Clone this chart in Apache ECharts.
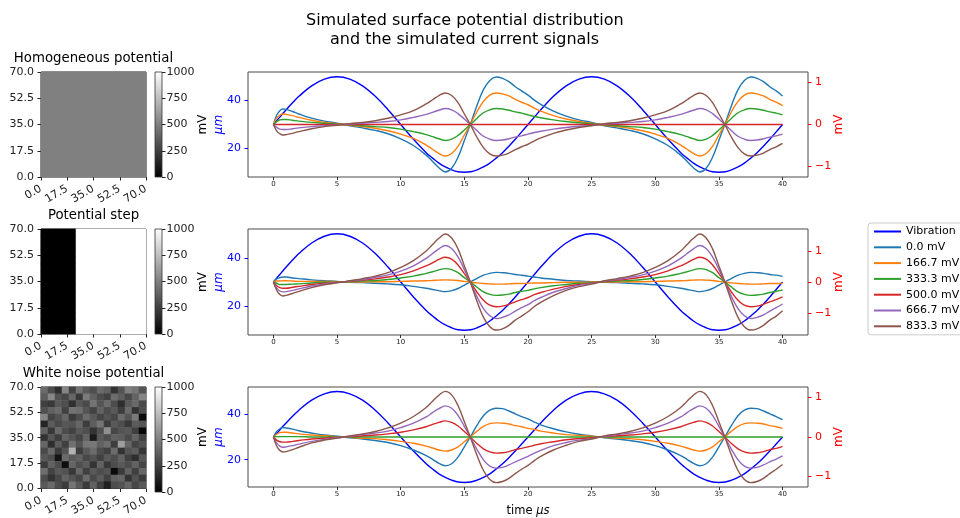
<!DOCTYPE html>
<html>
<head>
<meta charset="utf-8">
<script src="https://cdn.jsdelivr.net/npm/echarts@6/dist/echarts.min.js"></script>
<style>
  html, body { margin: 0; padding: 0; background: #fff; }
  #chart { width: 960px; height: 518px; }
</style>
</head>
<body>
<div id="chart"></div>
<script>
  // ---- data ----
  const TIME = [0, 0.25, 0.5, 0.75, 1, 1.5, 2, 3, 4, 5,
    6, 7, 8, 9, 10, 11, 12, 12.5, 13, 13.5,
    14, 14.5, 15, 15.5, 16, 16.5, 17, 17.5, 18, 18.5,
    19, 19.5, 20, 20.5, 21, 22, 23, 24, 25,
    26, 27, 28, 29, 30, 31, 32, 32.5, 33, 33.5,
    34, 34.5, 35, 35.5, 36, 36.5, 37, 37.5, 38, 38.5,
    39, 39.5, 40];

  const VIBRATION = [30, 31.6, 33.1, 34.7, 36.2, 39.1, 41.8, 46.2, 49.0, 50,
    49.0, 46.2, 41.8, 36.2, 30, 23.8, 18.2, 15.9, 13.8, 12.2,
    11.0, 10.2, 10, 10.2, 11.0, 12.2, 13.8, 15.9, 18.2, 20.9,
    23.8, 26.9, 30, 33.1, 36.2, 41.8, 46.2, 49.0, 50,
    49.0, 46.2, 41.8, 36.2, 30, 23.8, 18.2, 15.9, 13.8, 12.2,
    11.0, 10.2, 10, 10.2, 11.0, 12.2, 13.8, 15.9, 18.2, 20.9,
    23.8, 26.9, 30];

  // homogeneous potential panel
  const HOMO_0 = [0, 0.22, 0.33, 0.37, 0.36, 0.31, 0.25, 0.15, 0.08, 0.03,
    -0.03, -0.08, -0.14, -0.22, -0.34, -0.5, -0.73, -0.88, -1.03, -1.13,
    -1.04, -0.78, -0.38, 0.03, 0.46, 0.83, 1.05, 1.13, 1.1, 1.02,
    0.9, 0.8, 0.7, 0.58, 0.48, 0.32, 0.2, 0.11, 0.05,
    -0.03, -0.08, -0.14, -0.22, -0.34, -0.5, -0.73, -0.88, -1.03, -1.13,
    -1.04, -0.78, -0.38, 0.03, 0.46, 0.83, 1.05, 1.13, 1.1, 1.02,
    0.9, 0.8, 0.68];
  const HOMO_167 = [0, 0.15, 0.22, 0.25, 0.24, 0.21, 0.17, 0.10, 0.05, 0.02,
    -0.02, -0.05, -0.09, -0.15, -0.23, -0.33, -0.49, -0.59, -0.69, -0.75,
    -0.69, -0.52, -0.25, 0.02, 0.31, 0.55, 0.70, 0.75, 0.73, 0.68,
    0.60, 0.53, 0.47, 0.39, 0.32, 0.21, 0.13, 0.07, 0.03,
    -0.02, -0.05, -0.09, -0.15, -0.23, -0.33, -0.49, -0.59, -0.69, -0.75,
    -0.69, -0.52, -0.25, 0.02, 0.31, 0.55, 0.70, 0.75, 0.73, 0.68,
    0.60, 0.53, 0.45];
  const HOMO_333 = [0, 0.07, 0.11, 0.12, 0.12, 0.10, 0.08, 0.05, 0.03, 0.01,
    -0.01, -0.03, -0.05, -0.07, -0.11, -0.17, -0.24, -0.29, -0.34, -0.38,
    -0.35, -0.26, -0.13, 0.01, 0.15, 0.28, 0.35, 0.38, 0.37, 0.34,
    0.30, 0.27, 0.23, 0.19, 0.16, 0.11, 0.07, 0.04, 0.02,
    -0.01, -0.03, -0.05, -0.07, -0.11, -0.17, -0.24, -0.29, -0.34, -0.38,
    -0.35, -0.26, -0.13, 0.01, 0.15, 0.28, 0.35, 0.38, 0.37, 0.34,
    0.30, 0.27, 0.23];
  const HOMO_500 = [0, 0, 0, 0, 0, 0, 0, 0, 0, 0,
    0, 0, 0, 0, 0, 0, 0, 0, 0, 0,
    0, 0, 0, 0, 0, 0, 0, 0, 0, 0,
    0, 0, 0, 0, 0, 0, 0, 0, 0,
    0, 0, 0, 0, 0, 0, 0, 0, 0, 0,
    0, 0, 0, 0, 0, 0, 0, 0, 0, 0,
    0, 0, 0];
  const HOMO_667 = [0, -0.07, -0.11, -0.12, -0.12, -0.10, -0.08, -0.05, -0.03, -0.01,
    0.01, 0.03, 0.05, 0.07, 0.11, 0.17, 0.24, 0.29, 0.34, 0.38,
    0.35, 0.26, 0.13, -0.01, -0.15, -0.28, -0.35, -0.38, -0.37, -0.34,
    -0.30, -0.27, -0.23, -0.19, -0.16, -0.11, -0.07, -0.04, -0.02,
    0.01, 0.03, 0.05, 0.07, 0.11, 0.17, 0.24, 0.29, 0.34, 0.38,
    0.35, 0.26, 0.13, -0.01, -0.15, -0.28, -0.35, -0.38, -0.37, -0.34,
    -0.30, -0.27, -0.23];
  const HOMO_833 = [0, -0.15, -0.22, -0.25, -0.24, -0.21, -0.17, -0.10, -0.05, -0.02,
    0.02, 0.05, 0.09, 0.15, 0.23, 0.33, 0.49, 0.59, 0.69, 0.75,
    0.69, 0.52, 0.25, -0.02, -0.31, -0.55, -0.70, -0.75, -0.73, -0.68,
    -0.60, -0.53, -0.47, -0.39, -0.32, -0.21, -0.13, -0.07, -0.03,
    0.02, 0.05, 0.09, 0.15, 0.23, 0.33, 0.49, 0.59, 0.69, 0.75,
    0.69, 0.52, 0.25, -0.02, -0.31, -0.55, -0.70, -0.75, -0.73, -0.68,
    -0.60, -0.53, -0.45];

  // potential step panel
  const STEP_0 = [0, 0.10, 0.14, 0.16, 0.16, 0.13, 0.11, 0.07, 0.04, 0.02,
    -0.01, -0.02, -0.04, -0.06, -0.09, -0.14, -0.20, -0.24, -0.28, -0.31,
    -0.28, -0.21, -0.10, 0.01, 0.12, 0.22, 0.28, 0.31, 0.30, 0.28,
    0.24, 0.22, 0.19, 0.16, 0.13, 0.09, 0.05, 0.03, 0.01,
    -0.01, -0.02, -0.04, -0.06, -0.09, -0.14, -0.20, -0.24, -0.28, -0.31,
    -0.28, -0.21, -0.10, 0.01, 0.12, 0.22, 0.28, 0.31, 0.30, 0.28,
    0.24, 0.22, 0.18];
  const STEP_167 = [0, 0.03, 0.03, 0.04, 0.04, 0.03, 0.02, 0.02, 0.02, 0.01,
    0, 0, 0.01, 0.01, 0.02, 0.03, 0.04, 0.05, 0.06, 0.07,
    0.06, 0.05, 0.02, 0, -0.03, -0.05, -0.06, -0.07, -0.07, -0.06,
    -0.05, -0.05, -0.04, -0.03, -0.03, -0.02, -0.01, -0.01, 0,
    0, 0, 0.01, 0.01, 0.02, 0.03, 0.04, 0.05, 0.06, 0.07,
    0.06, 0.05, 0.02, 0, -0.03, -0.05, -0.06, -0.07, -0.07, -0.06,
    -0.05, -0.05, -0.04];
  const STEP_333 = [0, -0.04, -0.08, -0.08, -0.08, -0.07, -0.06, -0.03, -0.01, 0,
    0.01, 0.03, 0.05, 0.08, 0.13, 0.19, 0.28, 0.33, 0.39, 0.43,
    0.40, 0.30, 0.14, -0.01, -0.17, -0.32, -0.40, -0.43, -0.42, -0.39,
    -0.34, -0.30, -0.27, -0.22, -0.18, -0.12, -0.08, -0.04, -0.02,
    0.01, 0.03, 0.05, 0.08, 0.13, 0.19, 0.28, 0.33, 0.39, 0.43,
    0.40, 0.30, 0.14, -0.01, -0.17, -0.32, -0.40, -0.43, -0.42, -0.39,
    -0.34, -0.30, -0.26];
  const STEP_500 = [0, -0.12, -0.18, -0.20, -0.20, -0.17, -0.14, -0.08, -0.04, -0.01,
    0.02, 0.06, 0.10, 0.16, 0.24, 0.36, 0.52, 0.62, 0.73, 0.80,
    0.74, 0.55, 0.27, -0.02, -0.33, -0.59, -0.75, -0.80, -0.78, -0.72,
    -0.64, -0.57, -0.50, -0.41, -0.34, -0.23, -0.14, -0.08, -0.04,
    0.02, 0.06, 0.10, 0.16, 0.24, 0.36, 0.52, 0.62, 0.73, 0.80,
    0.74, 0.55, 0.27, -0.02, -0.33, -0.59, -0.75, -0.80, -0.78, -0.72,
    -0.64, -0.57, -0.48];
  const STEP_667 = [0, -0.19, -0.29, -0.32, -0.31, -0.27, -0.22, -0.13, -0.06, -0.02,
    0.03, 0.08, 0.15, 0.23, 0.35, 0.52, 0.76, 0.92, 1.07, 1.18,
    1.08, 0.81, 0.40, -0.03, -0.48, -0.86, -1.09, -1.18, -1.14, -1.06,
    -0.94, -0.83, -0.73, -0.60, -0.50, -0.33, -0.21, -0.11, -0.05,
    0.03, 0.08, 0.15, 0.23, 0.35, 0.52, 0.76, 0.92, 1.07, 1.18,
    1.08, 0.81, 0.40, -0.03, -0.48, -0.86, -1.09, -1.18, -1.14, -1.06,
    -0.94, -0.83, -0.71];
  const STEP_833 = [0, -0.26, -0.40, -0.45, -0.43, -0.37, -0.30, -0.18, -0.09, -0.03,
    0.04, 0.11, 0.19, 0.30, 0.47, 0.69, 1.00, 1.21, 1.41, 1.55,
    1.42, 1.07, 0.52, -0.04, -0.63, -1.14, -1.44, -1.55, -1.51, -1.40,
    -1.23, -1.10, -0.96, -0.79, -0.66, -0.44, -0.27, -0.15, -0.07,
    0.04, 0.11, 0.19, 0.30, 0.47, 0.69, 1.00, 1.21, 1.41, 1.55,
    1.42, 1.07, 0.52, -0.04, -0.63, -1.14, -1.44, -1.55, -1.51, -1.40,
    -1.23, -1.10, -0.93];

  // white noise panel
  const NOISE_0 = [0, 0.14, 0.21, 0.24, 0.23, 0.20, 0.16, 0.10, 0.05, 0.02,
    -0.02, -0.05, -0.09, -0.14, -0.22, -0.33, -0.47, -0.57, -0.67, -0.73,
    -0.68, -0.51, -0.25, 0.02, 0.30, 0.54, 0.68, 0.73, 0.72, 0.66,
    0.59, 0.52, 0.46, 0.38, 0.31, 0.21, 0.13, 0.07, 0.03,
    -0.02, -0.05, -0.09, -0.14, -0.22, -0.33, -0.47, -0.57, -0.67, -0.73,
    -0.68, -0.51, -0.25, 0.02, 0.30, 0.54, 0.68, 0.73, 0.72, 0.66,
    0.59, 0.52, 0.44];
  const NOISE_167 = [0, 0.07, 0.11, 0.12, 0.12, 0.10, 0.08, 0.05, 0.03, 0.01,
    -0.01, -0.03, -0.04, -0.07, -0.11, -0.16, -0.23, -0.28, -0.33, -0.36,
    -0.33, -0.25, -0.12, 0.01, 0.15, 0.27, 0.34, 0.36, 0.35, 0.33,
    0.29, 0.26, 0.22, 0.19, 0.15, 0.10, 0.06, 0.04, 0.02,
    -0.01, -0.03, -0.04, -0.07, -0.11, -0.16, -0.23, -0.28, -0.33, -0.36,
    -0.33, -0.25, -0.12, 0.01, 0.15, 0.27, 0.34, 0.36, 0.35, 0.33,
    0.29, 0.26, 0.22];
  const NOISE_333 = [0, 0.01, 0.01, 0.01, 0.01, 0.01, 0.01, 0, 0, 0,
    0, 0, 0, 0, 0, 0, 0, 0, 0, 0,
    0, 0, 0, 0, 0, 0, 0, 0, 0, 0,
    0, 0, 0, 0, 0, 0, 0, 0, 0,
    0, 0, 0, 0, 0, 0, 0, 0, 0, 0,
    0, 0, 0, 0, 0, 0, 0, 0, 0, 0,
    0, 0, 0];
  const NOISE_500 = [0, -0.08, -0.12, -0.13, -0.13, -0.11, -0.09, -0.05, -0.03, -0.01,
    0.01, 0.03, 0.05, 0.08, 0.12, 0.18, 0.26, 0.32, 0.37, 0.41,
    0.37, 0.28, 0.14, -0.01, -0.17, -0.30, -0.38, -0.41, -0.40, -0.37,
    -0.32, -0.29, -0.25, -0.21, -0.17, -0.12, -0.07, -0.04, -0.02,
    0.01, 0.03, 0.05, 0.08, 0.12, 0.18, 0.26, 0.32, 0.37, 0.41,
    0.37, 0.28, 0.14, -0.01, -0.17, -0.30, -0.38, -0.41, -0.40, -0.37,
    -0.32, -0.29, -0.24];
  const NOISE_667 = [0, -0.15, -0.23, -0.26, -0.25, -0.22, -0.18, -0.11, -0.06, -0.02,
    0.02, 0.06, 0.10, 0.15, 0.24, 0.35, 0.51, 0.62, 0.72, 0.79,
    0.73, 0.55, 0.27, -0.02, -0.32, -0.58, -0.74, -0.79, -0.77, -0.71,
    -0.63, -0.56, -0.49, -0.41, -0.34, -0.22, -0.14, -0.08, -0.04,
    0.02, 0.06, 0.10, 0.15, 0.24, 0.35, 0.51, 0.62, 0.72, 0.79,
    0.73, 0.55, 0.27, -0.02, -0.32, -0.58, -0.74, -0.79, -0.77, -0.71,
    -0.63, -0.56, -0.48];
  const NOISE_833 = [0, -0.23, -0.34, -0.38, -0.37, -0.32, -0.26, -0.15, -0.08, -0.03,
    0.03, 0.08, 0.14, 0.23, 0.35, 0.52, 0.75, 0.91, 1.06, 1.16,
    1.07, 0.80, 0.39, -0.03, -0.47, -0.85, -1.08, -1.16, -1.13, -1.05,
    -0.93, -0.82, -0.72, -0.60, -0.49, -0.33, -0.21, -0.11, -0.05,
    0.03, 0.08, 0.14, 0.23, 0.35, 0.52, 0.75, 0.91, 1.06, 1.16,
    1.07, 0.80, 0.39, -0.03, -0.47, -0.85, -1.08, -1.16, -1.13, -1.05,
    -0.93, -0.82, -0.70];

  // surface potential maps (mV), top row first, 15 x 15 cells over 0..70
  const HOMO_MAP = [
    [500, 500, 500, 500, 500, 500, 500, 500, 500, 500, 500, 500, 500, 500, 500],
    [500, 500, 500, 500, 500, 500, 500, 500, 500, 500, 500, 500, 500, 500, 500],
    [500, 500, 500, 500, 500, 500, 500, 500, 500, 500, 500, 500, 500, 500, 500],
    [500, 500, 500, 500, 500, 500, 500, 500, 500, 500, 500, 500, 500, 500, 500],
    [500, 500, 500, 500, 500, 500, 500, 500, 500, 500, 500, 500, 500, 500, 500],
    [500, 500, 500, 500, 500, 500, 500, 500, 500, 500, 500, 500, 500, 500, 500],
    [500, 500, 500, 500, 500, 500, 500, 500, 500, 500, 500, 500, 500, 500, 500],
    [500, 500, 500, 500, 500, 500, 500, 500, 500, 500, 500, 500, 500, 500, 500],
    [500, 500, 500, 500, 500, 500, 500, 500, 500, 500, 500, 500, 500, 500, 500],
    [500, 500, 500, 500, 500, 500, 500, 500, 500, 500, 500, 500, 500, 500, 500],
    [500, 500, 500, 500, 500, 500, 500, 500, 500, 500, 500, 500, 500, 500, 500],
    [500, 500, 500, 500, 500, 500, 500, 500, 500, 500, 500, 500, 500, 500, 500],
    [500, 500, 500, 500, 500, 500, 500, 500, 500, 500, 500, 500, 500, 500, 500],
    [500, 500, 500, 500, 500, 500, 500, 500, 500, 500, 500, 500, 500, 500, 500],
    [500, 500, 500, 500, 500, 500, 500, 500, 500, 500, 500, 500, 500, 500, 500]
  ];
  const STEP_MAP = [
    [0, 0, 0, 0, 0, 1000, 1000, 1000, 1000, 1000, 1000, 1000, 1000, 1000, 1000],
    [0, 0, 0, 0, 0, 1000, 1000, 1000, 1000, 1000, 1000, 1000, 1000, 1000, 1000],
    [0, 0, 0, 0, 0, 1000, 1000, 1000, 1000, 1000, 1000, 1000, 1000, 1000, 1000],
    [0, 0, 0, 0, 0, 1000, 1000, 1000, 1000, 1000, 1000, 1000, 1000, 1000, 1000],
    [0, 0, 0, 0, 0, 1000, 1000, 1000, 1000, 1000, 1000, 1000, 1000, 1000, 1000],
    [0, 0, 0, 0, 0, 1000, 1000, 1000, 1000, 1000, 1000, 1000, 1000, 1000, 1000],
    [0, 0, 0, 0, 0, 1000, 1000, 1000, 1000, 1000, 1000, 1000, 1000, 1000, 1000],
    [0, 0, 0, 0, 0, 1000, 1000, 1000, 1000, 1000, 1000, 1000, 1000, 1000, 1000],
    [0, 0, 0, 0, 0, 1000, 1000, 1000, 1000, 1000, 1000, 1000, 1000, 1000, 1000],
    [0, 0, 0, 0, 0, 1000, 1000, 1000, 1000, 1000, 1000, 1000, 1000, 1000, 1000],
    [0, 0, 0, 0, 0, 1000, 1000, 1000, 1000, 1000, 1000, 1000, 1000, 1000, 1000],
    [0, 0, 0, 0, 0, 1000, 1000, 1000, 1000, 1000, 1000, 1000, 1000, 1000, 1000],
    [0, 0, 0, 0, 0, 1000, 1000, 1000, 1000, 1000, 1000, 1000, 1000, 1000, 1000],
    [0, 0, 0, 0, 0, 1000, 1000, 1000, 1000, 1000, 1000, 1000, 1000, 1000, 1000],
    [0, 0, 0, 0, 0, 1000, 1000, 1000, 1000, 1000, 1000, 1000, 1000, 1000, 1000]
  ];
  const NOISE_MAP = [
    [420, 300, 180, 520, 260, 450, 350, 310, 420, 380, 200, 330, 500, 460, 330],
    [360, 530, 320, 280, 400, 220, 480, 380, 300, 260, 430, 370, 280, 390, 520],
    [250, 220, 350, 310, 190, 340, 290, 450, 330, 420, 300, 180, 350, 410, 290],
    [310, 380, 420, 260, 450, 430, 330, 260, 380, 300, 350, 240, 410, 200, 300],
    [520, 270, 320, 400, 230, 300, 420, 350, 270, 330, 280, 420, 330, 480, 40],
    [150, 360, 290, 340, 330, 400, 240, 370, 460, 240, 350, 300, 220, 360, 330],
    [380, 220, 410, 300, 260, 350, 310, 200, 310, 560, 280, 330, 350, 250, 30],
    [200, 330, 240, 390, 330, 270, 390, 100, 350, 300, 380, 360, 290, 390, 260],
    [400, 180, 360, 250, 440, 330, 460, 470, 380, 430, 240, 620, 400, 270, 320],
    [290, 420, 230, 330, 700, 240, 350, 420, 300, 250, 420, 200, 330, 360, 210],
    [350, 300, 80, 420, 350, 380, 280, 320, 250, 350, 300, 380, 250, 180, 340],
    [230, 380, 300, 50, 400, 310, 360, 200, 390, 220, 300, 350, 300, 390, 270],
    [430, 260, 350, 320, 220, 400, 250, 350, 300, 330, 40, 230, 380, 250, 400],
    [300, 200, 280, 390, 330, 270, 420, 290, 360, 260, 380, 400, 200, 320, 230],
    [350, 420, 300, 240, 460, 350, 230, 380, 250, 120, 300, 330, 400, 280, 350]
  ];

  const SERIES_NAMES = ['0.0 mV', '166.7 mV', '333.3 mV', '500.0 mV', '666.7 mV', '833.3 mV'];
  const MAP_TITLES = ['Homogeneous potential', 'Potential step', 'White noise potential'];
  const MAPS = [HOMO_MAP, STEP_MAP, NOISE_MAP];
  const SIGNALS = [
    [HOMO_0, HOMO_167, HOMO_333, HOMO_500, HOMO_667, HOMO_833],
    [STEP_0, STEP_167, STEP_333, STEP_500, STEP_667, STEP_833],
    [NOISE_0, NOISE_167, NOISE_333, NOISE_500, NOISE_667, NOISE_833]
  ];
  const TIME_TICKS = [0, 5, 10, 15, 20, 25, 30, 35, 40];
  const UM_TICKS = [20, 40];
  const MV_TICKS = [-1, 0, 1];
  const CELLS = ['0', '1', '2', '3', '4', '5', '6', '7', '8', '9', '10', '11', '12', '13', '14'];

  // ---- layout / style ----
  const FONT = 'DejaVu Sans';
  const LINE_COLORS = ['#1f77b4', '#ff7f0e', '#2ca02c', '#d62728', '#9467bd', '#8c564b'];
  const PANEL_TOPS = [72, 229, 387];
  const PANEL_HEIGHTS = [105, 106, 106];
  const RIGHT_LIMIT = [1.25, 1.71, 1.27];

  const minusFmt = v => (v < 0 ? '\u2212' + Math.abs(v) : String(v));

  const grids = [], xAxes = [], yAxes = [], series = [], heatIdx = [];

  MAPS.forEach((map, p) => {
    const top = PANEL_TOPS[p];
    const h = PANEL_HEIGHTS[p];

    // --- signal plot ---
    const g = grids.length;
    grids.push({ left: 248, top: top, width: 560, height: h, show: true,
      borderColor: '#4a4a4a', borderWidth: 1, backgroundColor: '#fff' });
    const xi = xAxes.length;
    xAxes.push({
      type: 'value', gridIndex: g, min: -2, max: 42,
      axisLine: { show: false, onZero: false }, splitLine: { show: false },
      axisTick: { customValues: TIME_TICKS, length: 3, lineStyle: { color: '#333' } },
      axisLabel: { customValues: TIME_TICKS, fontSize: 7, color: '#222', margin: 4, fontFamily: FONT },
      name: p === 2 ? 'time {i|\u03bcs}' : '',
      nameLocation: 'middle', nameGap: 18, nameMoveOverlap: false,
      nameTextStyle: { fontSize: 11.5, color: '#000', fontFamily: FONT,
        rich: { i: { fontSize: 11.5, fontStyle: 'italic', color: '#000', fontFamily: FONT } } }
    });
    const yl = yAxes.length;
    yAxes.push({
      type: 'value', gridIndex: g, position: 'left', min: 8, max: 52,
      axisLine: { show: false, onZero: false }, splitLine: { show: false },
      axisTick: { customValues: UM_TICKS, length: 3.5, lineStyle: { color: '#0000ff' } },
      axisLabel: { customValues: UM_TICKS, fontSize: 11, color: '#0000ff', margin: 7, fontFamily: FONT },
      name: '\u03bcm', nameLocation: 'middle', nameGap: 23, nameRotate: 90, nameMoveOverlap: false,
      nameTextStyle: { color: '#0000ff', fontStyle: 'italic', fontSize: 12, fontFamily: FONT }
    });
    const yr = yAxes.length;
    yAxes.push({
      type: 'value', gridIndex: g, position: 'right', min: -RIGHT_LIMIT[p], max: RIGHT_LIMIT[p],
      axisLine: { show: false, onZero: false }, splitLine: { show: false },
      axisTick: { customValues: MV_TICKS, length: 3.5, lineStyle: { color: '#ff0000' } },
      axisLabel: { customValues: MV_TICKS, fontSize: 11, color: '#ff0000', margin: 7,
        fontFamily: FONT, formatter: minusFmt },
      name: 'mV', nameLocation: 'middle', nameGap: 25, nameRotate: 90, nameMoveOverlap: false,
      nameTextStyle: { color: '#ff0000', fontSize: 12, fontFamily: FONT }
    });
    yAxes.push({
      type: 'value', gridIndex: g, position: 'left',
      axisLine: { show: false, onZero: false }, axisTick: { show: false }, axisLabel: { show: false },
      splitLine: { show: false },
      name: 'mV', nameLocation: 'middle', nameGap: 39, nameRotate: 90, nameMoveOverlap: false,
      nameTextStyle: { color: '#000', fontSize: 12, fontFamily: FONT }
    });

    series.push({
      type: 'line', name: 'Vibration', xAxisIndex: xi, yAxisIndex: yl,
      data: TIME.map((t, i) => [t, VIBRATION[i]]),
      smooth: 0.4, symbol: 'none', showSymbol: false,
      lineStyle: { color: '#0000ff', width: 1.4 }, itemStyle: { color: '#0000ff' }
    });
    SIGNALS[p].forEach((vals, k) => {
      series.push({
        type: 'line', name: SERIES_NAMES[k], xAxisIndex: xi, yAxisIndex: yr,
        data: TIME.map((t, i) => [t, vals[i]]),
        smooth: 0.4, symbol: 'none', showSymbol: false,
        lineStyle: { color: LINE_COLORS[k], width: 1.4 }, itemStyle: { color: LINE_COLORS[k] }
      });
    });

    // --- potential map ---
    const gm = grids.length;
    grids.push({ left: 41, top: top, width: 105, height: 105, show: true,
      borderColor: '#222', borderWidth: 1, backgroundColor: 'transparent' });
    const xc = xAxes.length;
    xAxes.push({
      type: 'category', gridIndex: gm, data: CELLS, position: 'top',
      axisLine: { show: false, onZero: false }, axisTick: { show: false }, axisLabel: { show: false },
      splitLine: { show: false },
      name: MAP_TITLES[p], nameLocation: 'middle', nameGap: 7, nameMoveOverlap: false,
      nameTextStyle: { fontSize: 13.3, color: '#000', fontFamily: FONT }
    });
    xAxes.push({
      type: 'value', gridIndex: gm, position: 'bottom', min: 0, max: 70, interval: 17.5,
      axisLine: { show: false, onZero: false }, splitLine: { show: false },
      axisTick: { length: 3.5, lineStyle: { color: '#222' } },
      axisLabel: { rotate: 30, fontSize: 11, color: '#222', margin: 11, fontFamily: FONT,
        formatter: v => v.toFixed(1) }
    });
    const yc = yAxes.length;
    yAxes.push({ type: 'category', gridIndex: gm, data: CELLS, show: false });
    yAxes.push({
      type: 'value', gridIndex: gm, position: 'left', min: 0, max: 70, interval: 17.5,
      axisLine: { show: false, onZero: false }, splitLine: { show: false },
      axisTick: { length: 3.5, lineStyle: { color: '#222' } },
      axisLabel: { fontSize: 11, color: '#222', margin: 7, fontFamily: FONT,
        formatter: v => v.toFixed(1) }
    });
    const cells = [];
    map.forEach((row, r) => row.forEach((v, c) => cells.push([c, map.length - 1 - r, v])));
    heatIdx.push(series.length);
    series.push({
      type: 'heatmap', xAxisIndex: xc, yAxisIndex: yc, data: cells,
      itemStyle: { borderWidth: 0 }, emphasis: { disabled: true }
    });

    // --- colour bar ---
    const gc = grids.length;
    grids.push({ left: 155, top: top, width: 7, height: 105, show: true,
      borderColor: '#333', borderWidth: 0.8,
      backgroundColor: new echarts.graphic.LinearGradient(0, 0, 0, 1, [
        { offset: 0, color: '#ffffff' }, { offset: 1, color: '#000000' }
      ]) });
    xAxes.push({ type: 'value', gridIndex: gc, show: false });
    yAxes.push({
      type: 'value', gridIndex: gc, position: 'right', min: 0, max: 1000, interval: 250,
      axisLine: { show: false, onZero: false }, splitLine: { show: false },
      axisTick: { length: 3.5, lineStyle: { color: '#222' } },
      axisLabel: { fontSize: 11, color: '#222', margin: 4.5, fontFamily: FONT,
        formatter: v => String(v) }
    });
  });

  const option = {
    animation: false,
    backgroundColor: '#fff',
    title: [
      { text: 'Simulated surface potential distribution', left: 306, top: 13, padding: 0,
        textStyle: { fontSize: 16, fontWeight: 'normal', color: '#000', fontFamily: FONT } },
      { text: 'and the simulated current signals', left: 330, top: 32, padding: 0,
        textStyle: { fontSize: 16, fontWeight: 'normal', color: '#000', fontFamily: FONT } }
    ],
    legend: {
      data: ['Vibration'].concat(SERIES_NAMES),
      orient: 'vertical', left: 868, top: 223,
      itemWidth: 27, itemHeight: 12, itemGap: 4.8,
      padding: [3, 60, 3, 5],
      itemStyle: { opacity: 0 },
      backgroundColor: '#fff', borderColor: '#cccccc', borderWidth: 1, borderRadius: 3,
      textStyle: { fontSize: 11, color: '#000', fontFamily: FONT }
    },
    visualMap: {
      show: false, type: 'continuous', min: 0, max: 1000, dimension: 2,
      seriesIndex: heatIdx, inRange: { color: ['#000000', '#ffffff'] }
    },
    grid: grids,
    xAxis: xAxes,
    yAxis: yAxes,
    series: series
  };

  const chart = echarts.init(document.getElementById('chart'));
  chart.setOption(option);
</script>
</body>
</html>
